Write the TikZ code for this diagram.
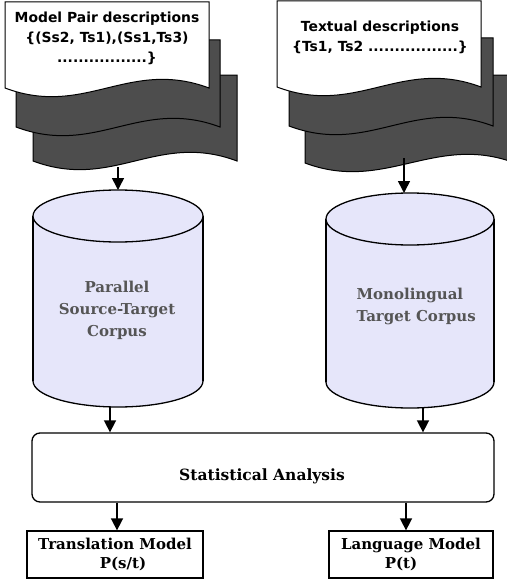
\documentclass[tikz,border=0pt]{standalone}
\usepackage{fontspec}
\newfontfamily\pagefont{DejaVu Sans}
\newfontfamily\corpfont{DejaVu Serif}
\usetikzlibrary{arrows.meta, positioning}
\definecolor{corpusfill}{RGB}{230,230,250}
\definecolor{pagegray}{RGB}{77,77,77}
\definecolor{labelgray}{RGB}{85,85,85}

% one sheet of a stack: left, top, right, bottom edge, fill
\newcommand{\sheet}[5]{%
  \draw[sheetline, fill=#5] (#1,#4) -- (#1,#2) -- (#3,#2) -- (#3,#4)
    .. controls +(-80,-30) and +(80,30) .. (#1,#4) -- cycle;}
% a drum: centre x, centre y of top rim, centre y of bottom rim, x radius
\newcommand{\drum}[4]{%
  \draw[drumline, fill=corpusfill] (#1,#3) ellipse (#4 and 26);
  \fill[corpusfill] (#1-#4,#2) rectangle (#1+#4,#3);
  \draw[drumline] (#1-#4,#2) -- (#1-#4,#3) (#1+#4,#2) -- (#1+#4,#3);
  \draw[drumline, fill=corpusfill] (#1,#2) ellipse (#4 and 26);}

\begin{document}
\begin{tikzpicture}[x=1pt, y=-1pt,
    sheetline/.style={draw=black, line width=1pt},
    sheettext/.style={font=\pagefont\bfseries\fontsize{13.9}{20}\selectfont, align=center},
    drumline/.style={draw=black, line width=1.3pt},
    corptext/.style={font=\corpfont\bfseries\fontsize{15}{22}\selectfont, text=labelgray},
    outbox/.style={rectangle, draw, line width=1.3pt, inner sep=0pt},
    outtext/.style={font=\corpfont\bfseries\fontsize{15}{19.5}\selectfont, align=center},
    arr/.style={-{Triangle[length=12pt, width=12pt]}, line width=1.6pt}]
  \useasboundingbox (0,0) rectangle (506,586);
  % left stack
  \sheet{33}{75}{237}{161}{pagegray}
  \sheet{16}{40}{220}{127}{pagegray}
  \sheet{5}{2}{209}{88}{white}
  \node[sheettext] (pairs) at (107,38) {Model Pair descriptions\\{\{}(Ss2, Ts1),(Ss1,Ts3)\\.................\}};
  % right stack
  \sheet{305}{75}{515}{163}{pagegray}
  \sheet{289}{38}{493}{126}{pagegray}
  \sheet{277}{1}{481}{87}{white}
  \node[sheettext] (texts) at (380,37.5) {Textual descriptions\\{\{}Ts1, Ts2 .................\}};
  \coordinate (lsrc) at (118,167);
  \coordinate (rsrc) at (404,158);
  % corpora
  \drum{118}{216}{381}{85}
  \drum{410}{219}{382}{84}
  \coordinate (ltop) at (118,190);
  \coordinate (rtop) at (404,193);
  \coordinate (lbot) at (110,407);
  \coordinate (rbot) at (423,407);
  \node[corptext, align=center] (lcorp) at (117,310) {Parallel\\Source-Target\\Corpus};
  \node[corptext, align=left, anchor=west] (rcorp) at (353,306) {Monolingual\\Target Corpus};
  % analysis
  \node[outbox, rounded corners=8pt, minimum width=462pt, minimum height=69pt] (stat) at (263,467.5) {};
  \node[outtext, font=\corpfont\bfseries\fontsize{15.5}{18}\selectfont] (stattxt) at (262,476) {Statistical Analysis};
  \node[outbox, outtext, minimum width=176pt, minimum height=47pt] (tm) at (115,554.5) {Translation Model\\\hspace*{16pt}P(s/t)};
  \node[outbox, outtext, minimum width=164pt, minimum height=47pt] (lm) at (411,554.5) {Language Model\\P(t)\hspace*{20pt}};
  \draw[arr] (lsrc) -- (ltop);
  \draw[arr] (rsrc) -- (rtop);
  \draw[arr] (lbot) -- (lbot |- stat.north);
  \draw[arr] (rbot) -- (rbot |- stat.north);
  \draw[arr] (stat.south -| 117,0) -- (tm.north -| 117,0);
  \draw[arr] (stat.south -| 406,0) -- (lm.north -| 406,0);
\end{tikzpicture}
\end{document}
